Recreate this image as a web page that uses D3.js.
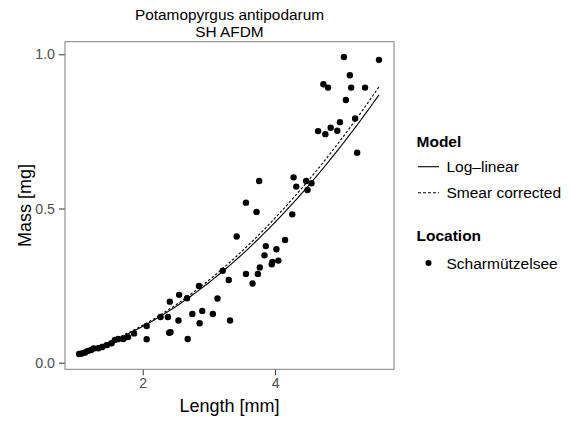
<!DOCTYPE html>
<html>
<head>
<meta charset="utf-8">
<script src="https://cdn.jsdelivr.net/npm/d3@7"></script>
<style>
  html, body { margin: 0; padding: 0; background: #fff; }
  svg { display: block; font-family: "Liberation Sans", Arial, Helvetica, sans-serif; }
</style>
</head>
<body>
<svg id="chart" width="572" height="423"></svg>
<script>
// Shell length (mm) and ash-free dry mass (mg) of Potamopyrgus antipodarum
const lengthMm = [
  1.04, 1.08, 1.13, 1.17, 1.22, 1.26, 1.33, 1.39, 1.46, 1.53,
  1.58, 1.63, 1.71, 1.78, 1.87, 2.06, 2.06, 2.27, 2.38, 2.40,
  2.41, 2.42, 2.54, 2.55, 2.67, 2.68, 2.75, 2.85, 2.86, 2.90,
  3.06, 3.13, 3.21, 3.30, 3.32, 3.42, 3.56, 3.56, 3.66, 3.72,
  3.74, 3.76, 3.77, 3.84, 3.86, 3.95, 3.96, 4.02, 4.05, 4.15,
  4.26, 4.28, 4.32, 4.47, 4.55, 4.49, 4.65, 4.73, 4.76, 4.80,
  4.84, 4.94, 4.98, 5.04, 5.07, 5.13, 5.15, 5.21, 5.24, 5.36,
  5.57
];
const massMg = [
  0.028, 0.030, 0.033, 0.038, 0.041, 0.046, 0.047, 0.051, 0.057, 0.063,
  0.074, 0.077, 0.077, 0.083, 0.095, 0.119, 0.076, 0.148, 0.148, 0.097,
  0.198, 0.099, 0.137, 0.220, 0.209, 0.077, 0.158, 0.249, 0.128, 0.168,
  0.158, 0.208, 0.298, 0.268, 0.137, 0.409, 0.288, 0.519, 0.257, 0.489,
  0.288, 0.589, 0.309, 0.348, 0.378, 0.319, 0.327, 0.368, 0.331, 0.398,
  0.481, 0.601, 0.571, 0.589, 0.582, 0.560, 0.751, 0.903, 0.741, 0.892,
  0.762, 0.752, 0.780, 0.991, 0.852, 0.932, 0.892, 0.792, 0.681, 0.892,
  0.982
];

// Fitted power model: mass = a * length^b, with a smearing back-transform factor
const modelA = 0.0305;
const modelB = 1.95;
const smearFactor = 1.03;

const xTicks = [2, 4];
const yTicks = [0.0, 0.5, 1.0];
const modelLabels = ["Log\u2013linear", "Smear corrected"];
const locationLabels = ["Scharm\u00fctzelsee"];

const svg = d3.select("#chart");
const panel = { left: 65, right: 394, top: 41.7, bottom: 369.3 };

const x = d3.scaleLinear().domain([0.826, 5.797]).range([panel.left, panel.right]);
const y = d3.scaleLinear().domain([-0.0214, 1.0408]).range([panel.bottom, panel.top]);

const ink = "#000";
const grey = "#4d4d4d";

// Title
const cx = (panel.left + panel.right) / 2;
const title = svg.append("text")
  .attr("text-anchor", "middle")
  .attr("font-size", 15.4)
  .attr("fill", ink);
title.append("tspan").attr("x", cx).attr("y", 20).text("Potamopyrgus antipodarum");
title.append("tspan").attr("x", cx).attr("y", 36.5).text("SH AFDM");

// Axes
const xAxis = d3.axisBottom(x).tickValues(xTicks).tickFormat(d3.format("d")).tickSize(6).tickPadding(3);
const yAxis = d3.axisLeft(y).tickValues(yTicks).tickFormat(d3.format(".1f")).tickSize(6).tickPadding(4);

const gx = svg.append("g").attr("transform", `translate(0,${panel.bottom})`).call(xAxis);
const gy = svg.append("g").attr("transform", `translate(${panel.left},0)`).call(yAxis);
[gx, gy].forEach(g => {
  g.select(".domain").remove();
  g.selectAll(".tick line").attr("stroke", "#333").attr("stroke-width", 1);
  g.selectAll(".tick text").attr("fill", grey).attr("font-size", 14.2)
    .attr("font-family", "'Liberation Sans', Arial, sans-serif");
});

// Axis titles
svg.append("text")
  .attr("x", cx).attr("y", 411.5)
  .attr("text-anchor", "middle").attr("font-size", 18).attr("fill", ink)
  .text("Length [mm]");
svg.append("text")
  .attr("transform", `translate(31,${(panel.top + panel.bottom) / 2}) rotate(-90)`)
  .attr("text-anchor", "middle").attr("font-size", 18).attr("fill", ink)
  .text("Mass [mg]");

// Data points
const pts = lengthMm.map((L, i) => ({ L, m: massMg[i] }));
svg.append("g").selectAll("circle").data(pts).join("circle")
  .attr("cx", d => x(d.L)).attr("cy", d => y(d.m)).attr("r", 3.2).attr("fill", ink);

// Model curves over the observed length range
const [lMin, lMax] = d3.extent(lengthMm);
const grid = d3.range(0, 101).map(i => lMin + (lMax - lMin) * i / 100);
const curve = k => d3.line().x(L => x(L)).y(L => y(k * modelA * Math.pow(L, modelB)))(grid);

svg.append("path").attr("d", curve(1))
  .attr("fill", "none").attr("stroke", ink).attr("stroke-width", 1.1);
svg.append("path").attr("d", curve(smearFactor))
  .attr("fill", "none").attr("stroke", ink).attr("stroke-width", 1.1)
  .attr("stroke-dasharray", "2.5,2");

// Panel border
svg.append("rect")
  .attr("x", panel.left).attr("y", panel.top)
  .attr("width", panel.right - panel.left).attr("height", panel.bottom - panel.top)
  .attr("fill", "none").attr("stroke", "#7f7f7f").attr("stroke-width", 1);

// Legend
const lg = svg.append("g");
lg.append("text").attr("x", 416.5).attr("y", 146.5).attr("font-size", 15.5)
  .attr("font-weight", "bold").attr("fill", ink).text("Model");
const dashes = [null, "3,2"];
modelLabels.forEach((lab, i) => {
  const yy = 166.7 + i * 26;
  lg.append("line").attr("x1", 418).attr("x2", 439).attr("y1", yy).attr("y2", yy)
    .attr("stroke", ink).attr("stroke-width", 1.1)
    .attr("stroke-dasharray", dashes[i]);
  lg.append("text").attr("x", 446.5).attr("y", yy + 5.5).attr("font-size", 15.5)
    .attr("fill", ink).text(lab);
});
lg.append("text").attr("x", 416.5).attr("y", 240.5).attr("font-size", 15.5)
  .attr("font-weight", "bold").attr("fill", ink).text("Location");
locationLabels.forEach((lab, i) => {
  const yy = 263 + i * 26;
  lg.append("circle").attr("cx", 428.5).attr("cy", yy).attr("r", 3).attr("fill", ink);
  lg.append("text").attr("x", 446.5).attr("y", yy + 5.5).attr("font-size", 15.5)
    .attr("fill", ink).text(lab);
});
</script>
</body>
</html>
